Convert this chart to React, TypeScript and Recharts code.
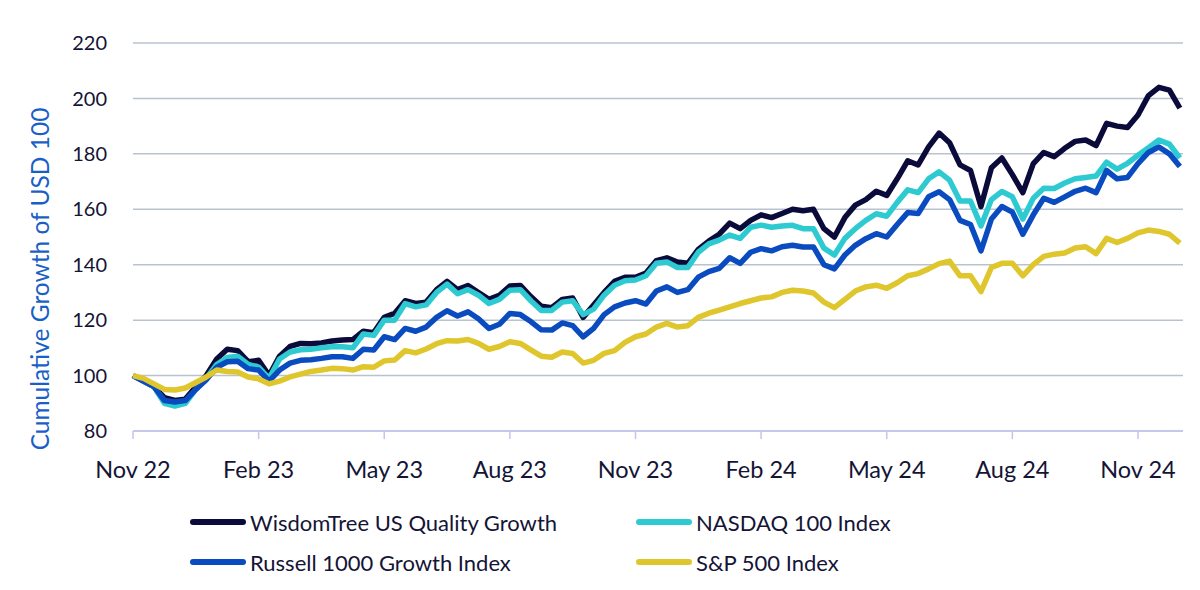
import { CartesianGrid, Legend, Line, LineChart, XAxis, YAxis } from 'recharts'

// one point roughly every week, Nov 2022 -> Dec 2024
const tickIndex = [0, 12, 24, 36, 48, 60, 72, 84, 96]
const tickLabels = ['Nov 22', 'Feb 23', 'May 23', 'Aug 23', 'Nov 23', 'Feb 24', 'May 24', 'Aug 24', 'Nov 24']
const yTicks = [80, 100, 120, 140, 160, 180, 200, 220]
const seriesNames = ['WisdomTree US Quality Growth', 'NASDAQ 100 Index', 'Russell 1000 Growth Index', 'S&P 500 Index']

const wisdomTree = [
  100, 98, 96, 92, 91, 91.5, 96, 100, 106, 109.5,
  109, 105, 105.5, 100, 107, 110.5, 111.6, 111.5, 111.8, 112.5,
  112.8, 113, 116, 115.5, 121, 122.5, 127, 126, 126.5, 131,
  134, 131, 132.5, 130, 127.5, 129, 132.3, 132.5, 128.5, 125,
  124.5, 127.5, 128, 121, 125.5, 130, 134, 135.5, 135.5, 137,
  141.5, 142.5, 141, 140.5, 145.5, 148.5, 151, 155, 153, 156,
  158, 157, 158.5, 160, 159.5, 160, 153, 150, 157, 161.5,
  163.5, 166.5, 165, 171, 177.5, 176, 182.5, 187.5, 184, 176,
  174, 161, 175, 178.5, 172.5, 166, 176.5, 180.5, 179, 182,
  184.5, 185, 183, 191, 190, 189.5, 194, 201, 204, 203,
  196.5,
]
const nasdaq = [
  100, 98, 96, 90, 89, 90, 95, 99, 104, 106.5,
  107, 104, 103, 99, 106, 108.5, 109.3, 109.5, 110, 110.4,
  110.4, 110, 115, 114.5, 120, 120, 126, 124.8, 125.5, 130,
  133, 129.5, 131, 129, 126, 127.5, 130.8, 131, 127, 123.5,
  123.5, 126.5, 127, 122, 124, 129, 132.6, 134.2, 134.5, 136,
  140.5, 141, 139, 139, 144.5, 147.5, 148.9, 150.7, 149.5, 153.5,
  154.3, 153.5, 154, 154.2, 153, 153, 146, 143.5, 149.5, 153,
  156, 158.4, 157.5, 162.5, 167, 166, 171, 173.5, 170.5, 163,
  163, 154, 163.5, 166.4, 164.5, 156.5, 164, 167.6, 167.5, 169.5,
  171, 171.5, 172, 177, 174.5, 176.6, 179.5, 182.2, 185, 183.5,
  178.5,
]
const russell = [
  100, 98, 96, 91, 90.5, 91, 95, 98.5, 103, 105,
  105.2, 102.5, 102, 98, 102, 104.5, 105.5, 105.7, 106.2, 106.8,
  106.8, 106.2, 109.5, 109.2, 114, 113, 117, 116, 117.5, 121,
  123.4, 121.5, 123, 120.5, 117, 118.5, 122.4, 122, 119.5, 116.5,
  116.4, 119, 118, 114, 117, 122, 124.8, 126.2, 127, 125.8,
  130.5, 132, 130, 131, 135.5, 137.5, 138.7, 142.5, 140.5, 144.5,
  145.8, 145, 146.5, 147, 146.4, 146.4, 140, 138.5, 143.5, 147,
  149.4, 151.2, 150, 154.5, 158.8, 158.5, 164.5, 166.3, 163.5, 156,
  154.5, 145, 156.5, 161, 159, 151, 158, 164, 162.5, 164.5,
  166.5, 167.6, 166, 174, 171, 171.5, 176.5, 180.5, 182.5, 180,
  175.4,
]
const sp500 = [
  100, 99, 97, 95, 94.8, 95.5, 97.5, 99.5, 102, 101.5,
  101.3, 99.5, 98.8, 97, 98, 99.5, 100.5, 101.5, 102, 102.6,
  102.5, 102, 103.2, 103, 105.3, 105.6, 109, 108.2, 109.6, 111.5,
  112.6, 112.5, 113, 111.6, 109.5, 110.5, 112.2, 111.6, 109.3, 107,
  106.6, 108.5, 108, 104.5, 105.5, 108, 109, 112, 114, 115,
  117.5, 118.8, 117.5, 118, 121, 122.5, 123.6, 124.8, 126, 127,
  128, 128.4, 130, 130.8, 130.5, 129.8, 126.5, 124.5, 127.5, 130.5,
  132, 132.6, 131.5, 133.5, 136, 136.8, 138.5, 140.4, 141.3, 136,
  136, 130.3, 139, 140.5, 140.5, 136, 140, 143, 143.8, 144.2,
  146, 146.5, 144, 149.5, 148, 149.5, 151.5, 152.5, 152, 151,
  147.8,
]

const data = wisdomTree.map((v, i) => ({
  i,
  wisdomTree: v,
  nasdaq: nasdaq[i],
  russell: russell[i],
  sp500: sp500[i],
}))

const TEXT = '#141436'

function renderLegend({ payload }: any) {
  const items = [...(payload || [])].sort(
    (a: any, b: any) => seriesNames.indexOf(a.value) - seriesNames.indexOf(b.value),
  )
  return (
    <div style={{ display: 'grid', gridTemplateColumns: '446px 320px' }}>
      {items.map((p: any) => (
        <div key={p.value} style={{ display: 'flex', alignItems: 'center', height: 40, whiteSpace: 'nowrap' }}>
          <span
            style={{
              display: 'inline-block',
              width: 56,
              height: 6,
              borderRadius: 3,
              background: p.color,
              marginRight: 4,
            }}
          />
          <span style={{ fontSize: 22, color: TEXT }}>{p.value}</span>
        </div>
      ))}
    </div>
  )
}

const lineProps = {
  strokeWidth: 5.5,
  strokeLinejoin: 'round' as const,
  dot: false,
  isAnimationActive: false,
}

export default function App() {
  return (
    <div style={{ width: 1200, height: 590, fontFamily: 'Lato, sans-serif', background: '#fff' }}>
      <style>{'body{margin:0}'}</style>
      <LineChart width={1200} height={590} data={data} margin={{ top: 43, right: 17, left: 0, bottom: 0 }}>
        <CartesianGrid vertical={false} stroke="#b8c3cf" strokeWidth={1.5} />
        <XAxis
          dataKey="i"
          type="number"
          domain={[0, 100.3]}
          ticks={tickIndex}
          tickFormatter={(v) => tickLabels[tickIndex.indexOf(v)] ?? ''}
          height={159}
          stroke="#c4c4f0"
          strokeWidth={1.5}
          tickSize={8}
          tickMargin={22}
          tick={{ fontSize: 23.5, fill: TEXT }}
        />
        <YAxis
          domain={[80, 220]}
          ticks={yTicks}
          width={133}
          axisLine={false}
          tickLine={false}
          tickSize={0}
          tickMargin={26}
          tick={{ fontSize: 20, fill: TEXT }}
          label={() => (
            <text
              x={39}
              y={279}
              transform="rotate(-90 39 279)"
              textAnchor="middle"
              dominantBaseline="central"
              fontSize={24.5}
              fill="#1a5fc8"
            >
              Cumulative Growth of USD 100
            </text>
          )}
        />
        <Legend
          layout="horizontal"
          verticalAlign="middle"
          align="center"
          content={renderLegend}
          wrapperStyle={{ top: 502, left: 190, width: 'auto' }}
        />
        <Line name={seriesNames[0]} dataKey="wisdomTree" stroke="#0b0b3b" {...lineProps} />
        <Line name={seriesNames[1]} dataKey="nasdaq" stroke="#2ecad2" {...lineProps} />
        <Line name={seriesNames[2]} dataKey="russell" stroke="#0a4cc0" {...lineProps} />
        <Line name={seriesNames[3]} dataKey="sp500" stroke="#dfc62c" {...lineProps} />
      </LineChart>
    </div>
  )
}
